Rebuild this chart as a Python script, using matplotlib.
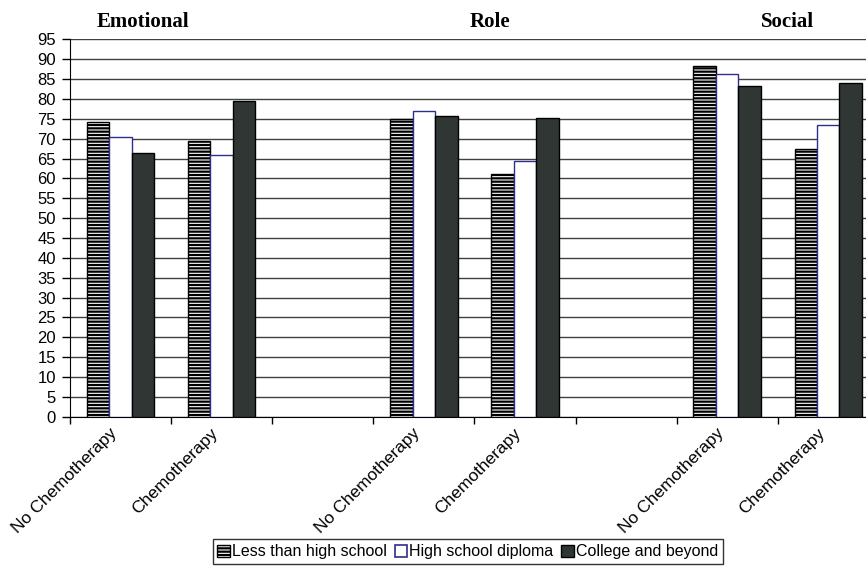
import matplotlib
matplotlib.use("Agg")
import matplotlib.pyplot as plt
from matplotlib.patches import Patch
from matplotlib.transforms import ScaledTranslation
import numpy as np

# Quality-of-life subscale scores by education level and treatment
domains = ["Emotional", "Role", "Social"]
treatments = ["No Chemotherapy", "Chemotherapy"]
series_names = ["Less than high school", "High school diploma", "College and beyond"]

less_than_hs = [74.3, 69.4, 74.9, 61.1, 88.4, 67.5]
hs_diploma = [70.5, 65.9, 76.9, 64.4, 86.3, 73.4]
college = [66.4, 79.6, 75.7, 75.3, 83.2, 84.1]

yticks = list(range(0, 100, 5))

plt.rcParams["font.family"] = ["Liberation Sans", "DejaVu Sans"]
plt.rcParams["hatch.linewidth"] = 1.6
plt.rcParams["hatch.color"] = "black"

fig = plt.figure(figsize=(8.66, 5.67), dpi=100)
ax = fig.add_axes([0.0808, 0.265, 0.934, 0.6655])

# categories: two treatment groups per domain, with an empty slot between domains
positions = []
labels = []
for d in range(len(domains)):
    for t, name in enumerate(treatments):
        positions.append(d * 3 + t)
        labels.append(name)
positions = np.array(positions, dtype=float)

w = 0.222
ax.bar(positions - w, less_than_hs, w, facecolor="white", edgecolor="black",
       hatch="-----", linewidth=1.0, zorder=3)
ax.bar(positions, hs_diploma, w, facecolor="white", edgecolor="#2e2e8c",
       linewidth=1.0, zorder=3)
ax.bar(positions + w, college, w, facecolor="#2f3633", edgecolor="black",
       linewidth=1.0, zorder=3)

ax.set_xlim(-0.5, 7.5)
ax.set_ylim(0, 95)
ax.set_yticks(yticks)
ax.tick_params(axis="y", labelsize=12, length=6, width=1, pad=4)

ax.set_xticks(np.arange(-0.5, 8.0, 1.0))
ax.set_xticklabels([])
ax.tick_params(axis="x", which="major", length=5, width=1, direction="out")
ax.set_xticks(positions, minor=True)
ax.set_xticklabels(labels, minor=True, rotation=45, ha="right", va="center",
                   rotation_mode="anchor", fontsize=12.5)
ax.tick_params(axis="x", which="minor", length=0, pad=10)
shift = ScaledTranslation(-6 / 100, 0, fig.dpi_scale_trans)
for lbl in ax.get_xticklabels(minor=True):
    lbl.set_transform(lbl.get_transform() + shift)

ax.yaxis.grid(True, color="#404040", linewidth=1.0, zorder=0)
ax.set_axisbelow(True)
for side in ["top", "right"]:
    ax.spines[side].set_visible(False)
ax.spines["left"].set_color("black")
ax.spines["bottom"].set_color("black")

# domain headings
for d, name in enumerate(domains):
    xcenter = [0.22, 3.65, 6.6][d]
    ax.text(xcenter, 1.045, name, transform=ax.get_xaxis_transform(),
            ha="center", va="center", fontsize=15, fontweight="bold",
            family=["Liberation Serif", "DejaVu Serif"])

handles = [
    Patch(facecolor="white", edgecolor="black", hatch="-----", linewidth=1.0),
    Patch(facecolor="white", edgecolor="#2e2e8c", linewidth=1.2),
    Patch(facecolor="#2f3633", edgecolor="black", linewidth=1.0),
]
leg = fig.legend(handles, series_names, loc="center", bbox_to_anchor=(0.54, 0.027),
                 ncol=3, fontsize=11.5, frameon=True, fancybox=False,
                 edgecolor="black", handlelength=0.8, handleheight=0.8,
                 handletextpad=0.1, columnspacing=0.5, borderpad=0.3,
                 borderaxespad=0)
leg.get_frame().set_linewidth(1.0)

fig.savefig("out.png", dpi=100)
